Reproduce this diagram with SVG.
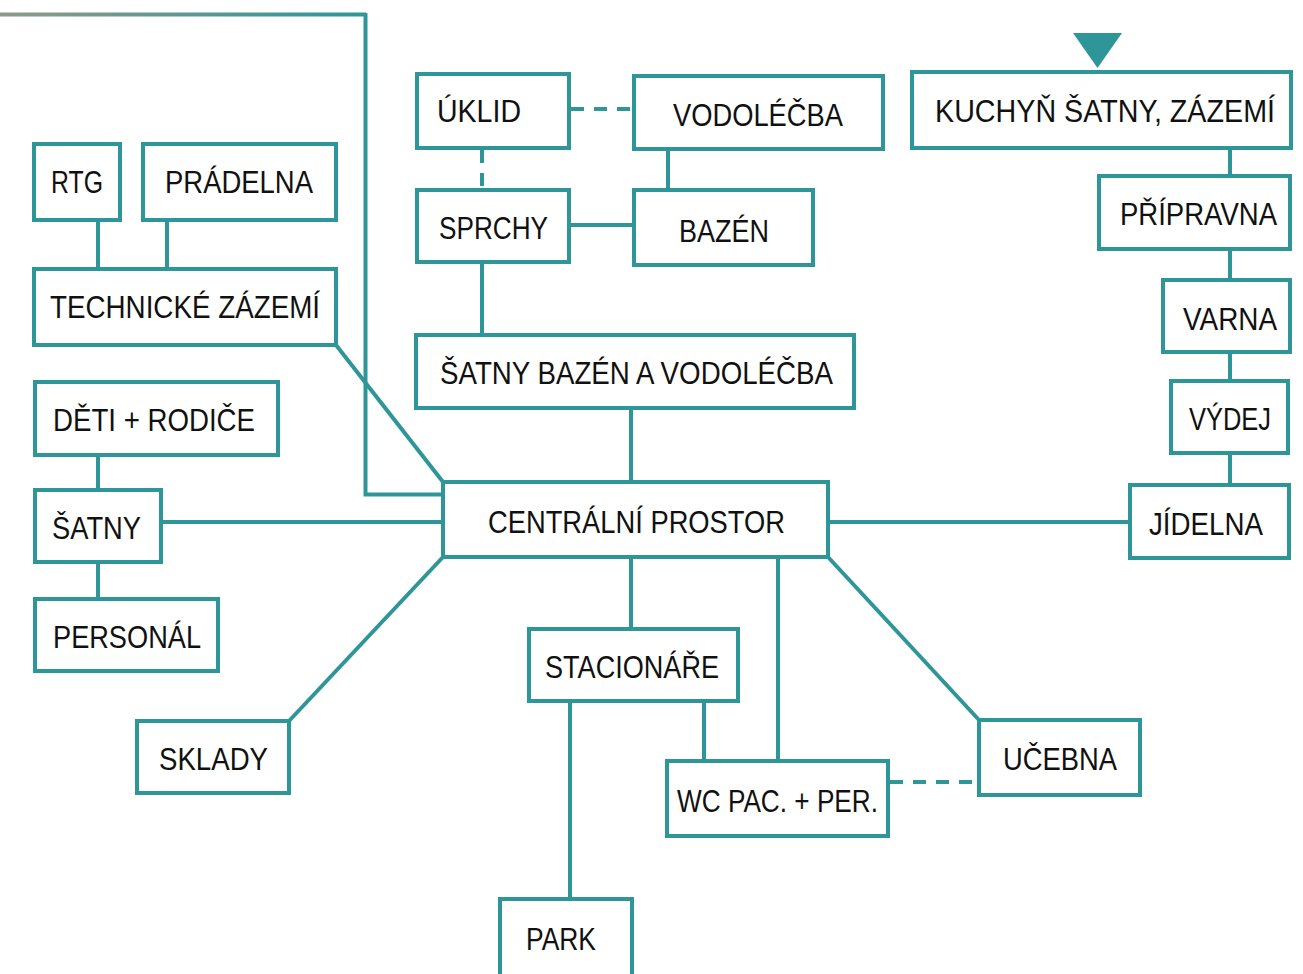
<svg xmlns="http://www.w3.org/2000/svg" width="1303" height="974" viewBox="0 0 1303 974">
<defs>
<linearGradient id="topg" gradientUnits="userSpaceOnUse" x1="0" y1="0" x2="366" y2="0">
<stop offset="0" stop-color="#8e9a88"/>
<stop offset="1" stop-color="#2e9699"/>
</linearGradient>
<style>
.n rect{fill:#fff;stroke:#2e9699;stroke-width:4}
.n text{font-family:"Liberation Sans",Arial,sans-serif;font-size:32px;fill:#111}
.c path{fill:none;stroke:#2e9699;stroke-width:4}
.c .d{stroke-dasharray:13 10}
</style>
</defs>
<rect width="1303" height="974" fill="#fff"/>
<g class="c" id="connectors">
<path d="M0 14.5H366" style="stroke:url(#topg)"/>
<path d="M365.5 13V494.5H443"/>
<path class="d" d="M571 109H632"/>
<path class="d" d="M482 150V188"/>
<path d="M668 151V188"/>
<path d="M571 225H632"/>
<path d="M482 264V335"/>
<path d="M631 409V482"/>
<path d="M98 222V269"/>
<path d="M167 222V269"/>
<path d="M336 345L443 482"/>
<path d="M98 456V490"/>
<path d="M163 522H443"/>
<path d="M98 562V599"/>
<path d="M443 557L289 721"/>
<path d="M631 557V629"/>
<path d="M570 701V899"/>
<path d="M704 701V761"/>
<path d="M778 557V761"/>
<path d="M828 557L979 720"/>
<path class="d" d="M890 782H979"/>
<path d="M828 522H1130"/>
<path d="M1230 148V176"/>
<path d="M1230 251V280"/>
<path d="M1230 352V381"/>
<path d="M1230 453V485"/>
<path d="M1073 33H1122L1097.5 68Z" style="fill:#2e9699;stroke:none"/>
</g>
<g class="n" id="uklid"><rect x="417" y="74" width="152" height="74"/><text x="437" y="122" textLength="84" lengthAdjust="spacingAndGlyphs">ÚKLID</text></g>
<g class="n" id="vodolecba"><rect x="634" y="76" width="249" height="73"/><text x="673" y="126" textLength="170" lengthAdjust="spacingAndGlyphs">VODOLÉČBA</text></g>
<g class="n" id="sprchy"><rect x="417" y="190" width="152" height="72"/><text x="439" y="239" textLength="109" lengthAdjust="spacingAndGlyphs">SPRCHY</text></g>
<g class="n" id="bazen"><rect x="634" y="190" width="179" height="75"/><text x="679" y="242" textLength="90" lengthAdjust="spacingAndGlyphs">BAZÉN</text></g>
<g class="n" id="satny-bazen"><rect x="416" y="335" width="438" height="73"/><text x="440" y="384" textLength="393" lengthAdjust="spacingAndGlyphs">ŠATNY BAZÉN A VODOLÉČBA</text></g>
<g class="n" id="centralni"><rect x="443" y="482" width="385" height="75"/><text x="488" y="533" textLength="297" lengthAdjust="spacingAndGlyphs">CENTRÁLNÍ PROSTOR</text></g>
<g class="n" id="rtg"><rect x="34" y="144" width="86" height="76"/><text x="51" y="193" textLength="52" lengthAdjust="spacingAndGlyphs">RTG</text></g>
<g class="n" id="pradelna"><rect x="143" y="144" width="193" height="76"/><text x="165" y="193" textLength="148" lengthAdjust="spacingAndGlyphs">PRÁDELNA</text></g>
<g class="n" id="technicke"><rect x="34" y="269" width="302" height="76"/><text x="50" y="318" textLength="270" lengthAdjust="spacingAndGlyphs">TECHNICKÉ ZÁZEMÍ</text></g>
<g class="n" id="deti"><rect x="35" y="382" width="243" height="73"/><text x="53" y="431" textLength="202" lengthAdjust="spacingAndGlyphs">DĚTI + RODIČE</text></g>
<g class="n" id="satny"><rect x="35" y="490" width="126" height="72"/><text x="52" y="539" textLength="89" lengthAdjust="spacingAndGlyphs">ŠATNY</text></g>
<g class="n" id="personal"><rect x="35" y="599" width="183" height="72"/><text x="53" y="648" textLength="148" lengthAdjust="spacingAndGlyphs">PERSONÁL</text></g>
<g class="n" id="sklady"><rect x="137" y="721" width="152" height="72"/><text x="159" y="770" textLength="109" lengthAdjust="spacingAndGlyphs">SKLADY</text></g>
<g class="n" id="stacionare"><rect x="529" y="629" width="209" height="72"/><text x="545" y="678" textLength="174" lengthAdjust="spacingAndGlyphs">STACIONÁŘE</text></g>
<g class="n" id="park"><rect x="500" y="899" width="132" height="82"/><text x="526" y="950" textLength="70" lengthAdjust="spacingAndGlyphs">PARK</text></g>
<g class="n" id="wc"><rect x="667" y="761" width="221" height="75"/><text x="677" y="812" textLength="201" lengthAdjust="spacingAndGlyphs">WC PAC. + PER.</text></g>
<g class="n" id="ucebna"><rect x="979" y="720" width="161" height="75"/><text x="1003" y="770" textLength="114" lengthAdjust="spacingAndGlyphs">UČEBNA</text></g>
<g class="n" id="kuchyn"><rect x="912" y="72" width="379" height="76"/><text x="935" y="122" textLength="340" lengthAdjust="spacingAndGlyphs">KUCHYŇ ŠATNY,  ZÁZEMÍ</text></g>
<g class="n" id="pripravna"><rect x="1099" y="176" width="191" height="73"/><text x="1120" y="225" textLength="157" lengthAdjust="spacingAndGlyphs">PŘÍPRAVNA</text></g>
<g class="n" id="varna"><rect x="1163" y="280" width="127" height="72"/><text x="1183" y="330" textLength="94" lengthAdjust="spacingAndGlyphs">VARNA</text></g>
<g class="n" id="vydej"><rect x="1171" y="381" width="117" height="72"/><text x="1189" y="430" textLength="82" lengthAdjust="spacingAndGlyphs">VÝDEJ</text></g>
<g class="n" id="jidelna"><rect x="1130" y="485" width="159" height="73"/><text x="1149" y="535" textLength="114" lengthAdjust="spacingAndGlyphs">JÍDELNA</text></g>
</svg>
